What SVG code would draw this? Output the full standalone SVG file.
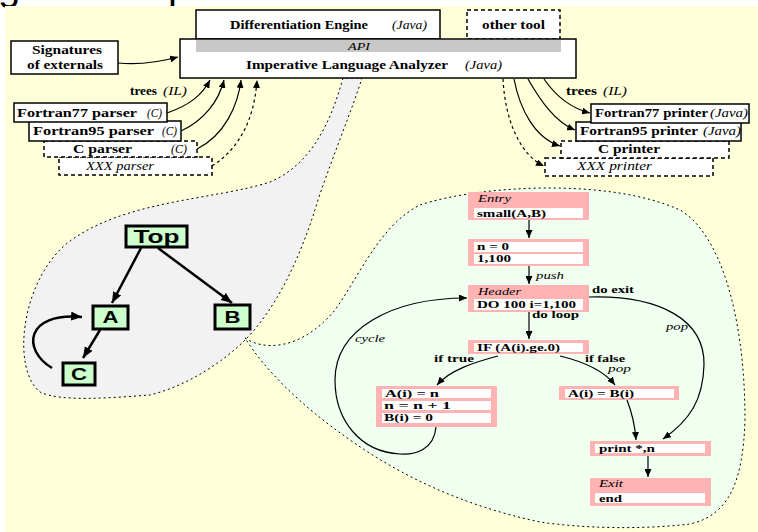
<svg xmlns="http://www.w3.org/2000/svg" width="758" height="532" viewBox="0 0 758 532">
<defs>
<marker id="ah" markerUnits="userSpaceOnUse" markerWidth="9" markerHeight="7" refX="8" refY="3.5" orient="auto"><path d="M0,0 L8,3.5 L0,7 z" fill="#000"/></marker>
<marker id="ahb" markerUnits="userSpaceOnUse" markerWidth="12" markerHeight="10" refX="11" refY="4.5" orient="auto"><path d="M0,0 L11,4.5 L0,9 z" fill="#000"/></marker>
</defs>
<style>
.bx{fill:#fff;stroke:#000;stroke-width:1.5}
.dbx{fill:#fff;stroke:#000;stroke-width:1.5;stroke-dasharray:4 3}
.t{font-family:"Liberation Serif","Times New Roman",serif;font-weight:bold;fill:#000}
.it{font-family:"Liberation Serif","Times New Roman",serif;font-style:italic;fill:#000}
.s13{font-size:13px}
.s12{font-size:12.5px}
.f{font-size:11px}
.ln{fill:none;stroke:#000;stroke-width:1.2;marker-end:url(#ah)}
.dln{fill:none;stroke:#000;stroke-width:1.2;stroke-dasharray:3 3;marker-end:url(#ah)}
.blob{stroke:#000;stroke-width:1;stroke-dasharray:2 3}
.gn{fill:#ccffcc;stroke:#000;stroke-width:3}
.gl{font-family:"Liberation Sans",Arial,sans-serif;font-weight:bold;text-anchor:middle;fill:#000}
.ga{fill:none;stroke:#000;stroke-width:2.5;marker-end:url(#ahb)}
.pk{fill:#ffb3b3}
.wf{fill:#fff}
</style>
<rect x="0" y="0" width="758" height="532" fill="#fff"/>
<text x="-2" y="0" font-family="Liberation Sans, sans-serif" font-size="40" fill="#000">g</text>
<text x="168" y="0" font-family="Liberation Sans, sans-serif" font-size="40" fill="#000">p</text>
<rect x="5" y="6" width="753" height="526" fill="#ffffda"/>

<!-- blobs -->
<path class="blob" fill="#f2f2f2" d="M 343 78 C 330 125, 310 165, 270 182 C 215 200, 120 200, 65 245 C 20 285, 12 370, 40 392 C 60 402, 110 398, 150 395 C 190 385, 225 360, 245 340 C 275 310, 300 260, 318 200 C 335 150, 352 110, 362 78 Z"/>
<path class="blob" fill="#f0fff0" d="M 245 338 C 262 350, 300 352, 335 310 C 360 275, 380 225, 420 205 C 480 185, 610 178, 680 210 C 718 232, 745 310, 745 420 C 743 480, 730 515, 690 524 C 640 530, 580 528, 540 522 C 460 505, 400 475, 350 440 C 300 405, 265 370, 245 338 Z"/>

<!-- top nodes -->
<g id="diff-engine">
<rect class="bx" x="196" y="10" width="244" height="29"/>
<text class="t s13" x="230" y="28.5" textLength="138" lengthAdjust="spacingAndGlyphs">Differentiation Engine</text>
<text class="it s13" x="392" y="28.5" textLength="35" lengthAdjust="spacingAndGlyphs">(Java)</text>
</g>
<g id="other-tool">
<rect class="dbx" x="467" y="10" width="93" height="29"/>
<text class="t s13" x="482" y="28.5" textLength="63" lengthAdjust="spacingAndGlyphs">other tool</text>
</g>
<g id="analyzer">
<rect class="bx" x="180" y="39" width="396" height="39"/>
<rect x="196" y="40" width="365" height="12" fill="#c8c8c8"/>
<text class="it" font-size="11" x="348" y="50" textLength="22" lengthAdjust="spacingAndGlyphs">API</text>
<text class="t s13" x="246" y="68.5" textLength="202" lengthAdjust="spacingAndGlyphs">Imperative Language Analyzer</text>
<text class="it s13" x="465" y="68.5" textLength="37" lengthAdjust="spacingAndGlyphs">(Java)</text>
</g>
<g id="signatures">
<rect class="bx" x="11" y="41" width="107" height="33"/>
<text class="t s13" x="32" y="54" textLength="70" lengthAdjust="spacingAndGlyphs">Signatures</text>
<text class="t s13" x="27" y="69" textLength="76" lengthAdjust="spacingAndGlyphs">of externals</text>
</g>

<text class="t s12" x="130" y="95" textLength="27" lengthAdjust="spacingAndGlyphs">trees</text>
<text class="it s12" x="163" y="95" textLength="24" lengthAdjust="spacingAndGlyphs">(IL)</text>
<text class="t s12" x="566" y="95" textLength="31" lengthAdjust="spacingAndGlyphs">trees</text>
<text class="it s12" x="603" y="95" textLength="24" lengthAdjust="spacingAndGlyphs">(IL)</text>

<g id="xxx-parser">
<rect class="dbx" x="59" y="157" width="153" height="18"/>
<text class="it s12" x="86" y="170" textLength="68" lengthAdjust="spacingAndGlyphs">XXX parser</text>
</g>
<g id="c-parser">
<rect class="dbx" x="44" y="141" width="153" height="16"/>
<text class="t s12" x="73" y="153" textLength="59" lengthAdjust="spacingAndGlyphs">C parser</text>
<text class="it s12" x="171" y="153" textLength="16" lengthAdjust="spacingAndGlyphs">(C)</text>
</g>
<g id="f95-parser">
<rect class="bx" x="29" y="121" width="152" height="20"/>
<text class="t s12" x="33" y="135" textLength="121" lengthAdjust="spacingAndGlyphs">Fortran95 parser</text>
<text class="it s12" x="162" y="135" textLength="15" lengthAdjust="spacingAndGlyphs">(C)</text>
</g>
<g id="f77-parser">
<rect class="bx" x="14" y="103" width="153" height="19"/>
<text class="t s12" x="17" y="117" textLength="120" lengthAdjust="spacingAndGlyphs">Fortran77 parser</text>
<text class="it s12" x="147" y="117" textLength="15" lengthAdjust="spacingAndGlyphs">(C)</text>
</g>

<g id="xxx-printer">
<rect class="dbx" x="545" y="158" width="168" height="18"/>
<text class="it s12" x="577" y="170" textLength="75" lengthAdjust="spacingAndGlyphs">XXX printer</text>
</g>
<g id="c-printer">
<rect class="dbx" x="561" y="141" width="168" height="17"/>
<text class="t s12" x="598" y="153" textLength="62" lengthAdjust="spacingAndGlyphs">C printer</text>
</g>
<g id="f95-printer">
<rect class="bx" x="576" y="122" width="165" height="19"/>
<text class="t s12" x="580" y="135" textLength="118" lengthAdjust="spacingAndGlyphs">Fortran95 printer</text>
<text class="it s12" x="703" y="135" textLength="38" lengthAdjust="spacingAndGlyphs">(Java)</text>
</g>
<g id="f77-printer">
<rect class="bx" x="591" y="104" width="158" height="19"/>
<text class="t s12" x="595" y="117" textLength="113" lengthAdjust="spacingAndGlyphs">Fortran77 printer</text>
<text class="it s12" x="710" y="117" textLength="38" lengthAdjust="spacingAndGlyphs">(Java)</text>
</g>

<!-- call graph -->
<g id="g-top"><rect class="gn" x="126" y="226" width="61" height="21"/><text class="gl" x="156.5" y="243" font-size="18" textLength="46" lengthAdjust="spacingAndGlyphs">Top</text></g>
<g id="g-a"><rect class="gn" x="93" y="306" width="35" height="23"/><text class="gl" x="110.5" y="323" font-size="17" textLength="16" lengthAdjust="spacingAndGlyphs">A</text></g>
<g id="g-b"><rect class="gn" x="215" y="305" width="35" height="24"/><text class="gl" x="232.5" y="323" font-size="17" textLength="16" lengthAdjust="spacingAndGlyphs">B</text></g>
<g id="g-c"><rect class="gn" x="63" y="363" width="32" height="22"/><text class="gl" x="79" y="380" font-size="17" textLength="16" lengthAdjust="spacingAndGlyphs">C</text></g>

<!-- flow graph -->
<g id="f-entry">
<rect class="pk" x="468" y="192" width="121" height="28"/>
<rect class="wf" x="474" y="208" width="109" height="10"/>
<text class="it f" x="478" y="202" textLength="33" lengthAdjust="spacingAndGlyphs">Entry</text>
<text class="t f" x="477" y="217" textLength="69" lengthAdjust="spacingAndGlyphs">small(A,B)</text>
</g>
<g id="f-init">
<rect class="pk" x="468" y="239" width="121" height="27"/>
<rect class="wf" x="474" y="242" width="109" height="10"/>
<rect class="wf" x="474" y="254" width="109" height="10"/>
<text class="t f" x="477" y="250" textLength="32" lengthAdjust="spacingAndGlyphs">n = 0</text>
<text class="t f" x="477" y="262" textLength="34" lengthAdjust="spacingAndGlyphs">1,100</text>
</g>
<g id="f-header">
<rect class="pk" x="468" y="285" width="121" height="27"/>
<rect class="wf" x="474" y="299" width="109" height="11"/>
<text class="it f" x="478" y="295" textLength="43" lengthAdjust="spacingAndGlyphs">Header</text>
<text class="t f" x="477" y="308" textLength="99" lengthAdjust="spacingAndGlyphs">DO 100 i=1,100</text>
</g>
<g id="f-if">
<rect class="pk" x="468" y="340" width="121" height="14"/>
<rect class="wf" x="474" y="343" width="109" height="9"/>
<text class="t f" x="477" y="351" textLength="83" lengthAdjust="spacingAndGlyphs">IF (A(i).ge.0)</text>
</g>
<g id="f-true">
<rect class="pk" x="376" y="386" width="121" height="41"/>
<rect class="wf" x="382" y="389" width="109" height="9"/>
<rect class="wf" x="382" y="401" width="109" height="9"/>
<rect class="wf" x="382" y="413" width="109" height="10"/>
<text class="t f" x="385" y="397" textLength="54" lengthAdjust="spacingAndGlyphs">A(i) = n</text>
<text class="t f" x="384" y="409" textLength="67" lengthAdjust="spacingAndGlyphs">n = n + 1</text>
<text class="t f" x="384" y="421" textLength="49" lengthAdjust="spacingAndGlyphs">B(i) = 0</text>
</g>
<g id="f-false">
<rect class="pk" x="559" y="386" width="120" height="14"/>
<rect class="wf" x="565" y="389" width="109" height="9"/>
<text class="t f" x="568" y="397" textLength="66" lengthAdjust="spacingAndGlyphs">A(i) = B(i)</text>
</g>
<g id="f-print">
<rect class="pk" x="590" y="441" width="121" height="15"/>
<rect class="wf" x="595" y="444" width="110" height="9"/>
<text class="t f" x="599" y="452" textLength="56" lengthAdjust="spacingAndGlyphs">print *,n</text>
</g>
<g id="f-exit">
<rect class="pk" x="590" y="478" width="121" height="28"/>
<rect class="wf" x="595" y="493" width="110" height="10"/>
<text class="it f" x="599" y="487" textLength="24" lengthAdjust="spacingAndGlyphs">Exit</text>
<text class="t f" x="599" y="502" textLength="23" lengthAdjust="spacingAndGlyphs">end</text>
</g>

<g id="connectors">
<path class="ln" d="M 118 63 C 140 65, 160 62, 178 57"/>
<path class="ln" d="M 167 113 C 190 105, 202 95, 210 80"/>
<path class="ln" d="M 181 131 C 205 120, 219 100, 224 80"/>
<path class="ln" d="M 197 149 C 225 135, 238 105, 241 80"/>
<path class="dln" d="M 212 166 C 245 145, 255 110, 257 80"/>
<path class="ln" d="M 544 79 C 555 95, 570 108, 590 113"/>
<path class="ln" d="M 528 79 C 540 100, 555 122, 575 130"/>
<path class="ln" d="M 514 79 C 520 110, 535 138, 560 146"/>
<path class="dln" d="M 503 79 C 505 120, 520 155, 544 166"/>

<path class="ga" d="M 141 248 L 112 303"/>
<path class="ga" d="M 158 248 L 232 303"/>
<path class="ga" d="M 100 330 L 83 358"/>
<path class="ga" d="M 52 368 C 22 350, 25 312, 82 317"/>

<path class="ln" d="M 529 220 L 529 238"/>
<path class="ln" d="M 529 266 L 529 284"/>
<path class="ln" d="M 529 312 L 529 339"/>
<path class="ln" d="M 498 356 C 475 362, 450 370, 437 385"/>
<path class="ln" d="M 560 356 C 585 362, 605 372, 615 385"/>
<path class="ln" d="M 627 400 C 632 413, 635 425, 636 440"/>
<path class="ln" d="M 589 297 C 660 295, 705 320, 704 365 C 703 400, 690 420, 663 439"/>
<path class="ln" d="M 648 456 L 648 477"/>
<path class="ln" d="M 436 427 C 434 450, 415 455, 400 454 C 360 452, 335 420, 335 380 C 335 330, 390 298, 467 298"/>
<text class="it f" x="536" y="279" textLength="28" lengthAdjust="spacingAndGlyphs">push</text>
<text class="t f" x="592" y="293" textLength="42" lengthAdjust="spacingAndGlyphs">do exit</text>
<text class="t f" x="532" y="318" textLength="47" lengthAdjust="spacingAndGlyphs">do loop</text>
<text class="it f" x="666" y="330" textLength="22" lengthAdjust="spacingAndGlyphs">pop</text>
<text class="it f" x="355" y="342" textLength="30" lengthAdjust="spacingAndGlyphs">cycle</text>
<text class="t f" x="434" y="362" textLength="40" lengthAdjust="spacingAndGlyphs">if true</text>
<text class="t f" x="585" y="362" textLength="40" lengthAdjust="spacingAndGlyphs">if false</text>
<text class="it f" x="608" y="372" textLength="23" lengthAdjust="spacingAndGlyphs">pop</text>
</g>
</svg>
